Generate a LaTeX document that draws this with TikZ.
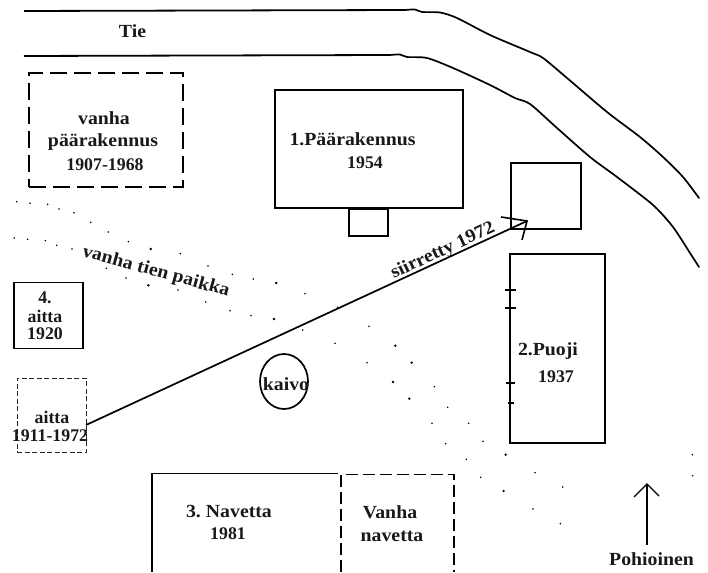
\documentclass[tikz,border=0pt]{standalone}
\usepackage{fontspec}
\usetikzlibrary{shapes.geometric}
\setmainfont[FakeStretch=1.07]{Liberation Serif}
\newfontfamily\numfont{Liberation Serif}
\begin{document}
\begin{tikzpicture}[x=1pt,y=-1pt,line join=miter,
  bld/.style={draw=black,line width=1.7pt,inner sep=0pt,outer sep=0pt},
  old/.style={draw=black,line width=1.7pt,dash pattern=on 17pt off 7pt,inner sep=0pt,outer sep=0pt},
  oldthin/.style={draw=black!85,line width=0.8pt,dash pattern=on 5pt off 2.5pt,inner sep=0pt,outer sep=0pt},
  lbl/.style={font=\fontsize{18.5}{20}\selectfont\bfseries,inner sep=0pt,text=black!90},
  nlbl/.style={font=\numfont\fontsize{17.8}{20}\selectfont\bfseries,inner sep=0pt,text=black!90},
  road/.style={line width=1.7pt,line cap=round},
  spot/.style={fill=black,circle,inner sep=0pt}]
\useasboundingbox (0,0) rectangle (708,572);
% road
\draw[line width=1.8pt] (24,11) -- (405,10);
\draw[line width=1.8pt] (24,56) -- (390,55);
\draw[road] plot[smooth,tension=0.45] coordinates {(405,10) (415,9.5) (422,12) (440,12.5) (457,18) (490,35) (530,52) (543,58) (567,78) (607,112) (640,137) (663,157) (683,177) (699,198)};
\draw[road] plot[smooth,tension=0.45] coordinates {(390,55) (400,54.5) (407,57) (427,58) (453,68) (490,85) (515,98) (530,104) (557,128) (590,157) (617,177) (653,205) (673,227) (690,253) (699,267)};
% buildings
\node[old,minimum width=154pt,minimum height=114pt] (vanha) at (106,130) {};
\node[bld,minimum width=188pt,minimum height=118pt] (paa) at (369,149) {};
\node[bld,minimum width=39pt,minimum height=27pt] (porras) at (368.5,222.5) {};
\node[bld,minimum width=69.5pt,minimum height=66pt] (moved) at (546,196) {};
\node[bld,minimum width=95pt,minimum height=189pt] (puoji) at (557.5,348.5) {};
\node[bld,minimum width=69pt,minimum height=66pt] (aitta) at (48.5,315.5) {};
\node[oldthin,minimum width=69pt,minimum height=74pt] (aittaold) at (51.5,415) {};
\node[draw=black,line width=1.7pt,ellipse,minimum width=48pt,minimum height=55pt,inner sep=0pt] (kaivo) at (284,381.5) {};
% navetta
\coordinate (nava) at (152,572);
\coordinate (navb) at (152,473.5);
\coordinate (navc) at (338,473.5);
\coordinate (navd) at (454,474.5);
\draw[line width=1.7pt] (nava) -- (navb) -- (navc);
\draw[line width=1.3pt,dash pattern=on 12pt off 5pt] (341,572) -- (341,474.5) -- (navd) -- (454,572);
% puoji ticks
\foreach \y/\a/\b in {290/505/516,308/505/516,383/506/515,403/508/514}
  \draw[line width=1.3pt] (\a,\y) -- (\b,\y);
% move arrow
\coordinate (mfrom) at (86,425);
\coordinate (mto) at (527,221);
\coordinate (ha) at (501,217);
\coordinate (hb) at (522,240);
\draw[line width=1.7pt] (mfrom) -- (mto);
\draw[line width=1.6pt] (ha) -- (mto) -- (hb);
% north arrow
\coordinate (nfrom) at (647,545);
\coordinate (nto) at (647,484);
\coordinate (nl) at (634,497);
\coordinate (nr) at (659,496);
\draw[line width=1.1pt] (nfrom) -- (nto);
\draw[line width=1.1pt] (nl) -- (nto) -- (nr);
% dots
\foreach \x/\y in {50/65,90/70,143/73,177/87,222/98,272/127,325/156,385/185,541/221,624/258,697/283,760/297,915/341,1013/382,
 43/174,83/178,136/182,170/196,216/207,319/265,378/294,534/330,617/366,690/392,753/407,908/450,1005/490}
  \node[spot,minimum size=1.7pt] (d\x) at ({\x/3},{180+\y/3}) {};
\foreach \x/\y in {452/207,829/309,445/316,822/417}
  \node[spot,minimum size=2.8pt] (e\x) at ({\x/3},{180+\y/3}) {};
\foreach \x/\y in {45/139,39/248,241/320,281/382,234/430,344/430,275/491,387/484,337/538,380/592,543/578,626/621,537/687,619/731,1015/524,1016/587}
  \node[spot,minimum size=1.7pt] (f\x) at ({354+\x/3},{280+\y/3}) {};
\foreach \x/\y in {124/197,173/248,117/306,166/356,455/524,449/633}
  \node[spot,minimum size=2.6pt] (g\x) at ({354+\x/3},{280+\y/3}) {};
% labels
\node[lbl] (t1) at (132.5,31) {Tie};
\node[lbl] (t2) at (104,118) {vanha};
\node[lbl] (t3) at (103,142) {päärakennus};
\node[nlbl] (t4) at (105,165) {1907-1968};
\node[lbl] (t5) at (352.5,139) {1.Päärakennus};
\node[nlbl] (t6) at (365,163) {1954};
\node[lbl,rotate=25] (t7) at (443,251) {siirretty 1972};
\node[lbl,rotate=-15.5] (t8) at (156,272) {vanha tien paikka};
\node[nlbl] (t9) at (45,298) {4.};
\node[nlbl] (t10) at (45,316) {aitta};
\node[nlbl] (t11) at (45,334) {1920};
\node[lbl] (t12) at (548,351) {2.Puoji};
\node[nlbl] (t13) at (556,377) {1937};
\node[lbl] (t14) at (286,384) {kaivo};
\node[nlbl] (t15) at (52,417) {aitta};
\node[nlbl] (t16) at (50,436) {1911-1972};
\node[lbl] (t17) at (229,511) {3.\hspace{5pt}Navetta};
\node[nlbl] (t18) at (228,534) {1981};
\node[lbl] (t19) at (390,512) {Vanha};
\node[lbl] (t20) at (392,536) {navetta};
\node[lbl] (t21) at (651.5,559) {Pohioinen};
\end{tikzpicture}
\end{document}
